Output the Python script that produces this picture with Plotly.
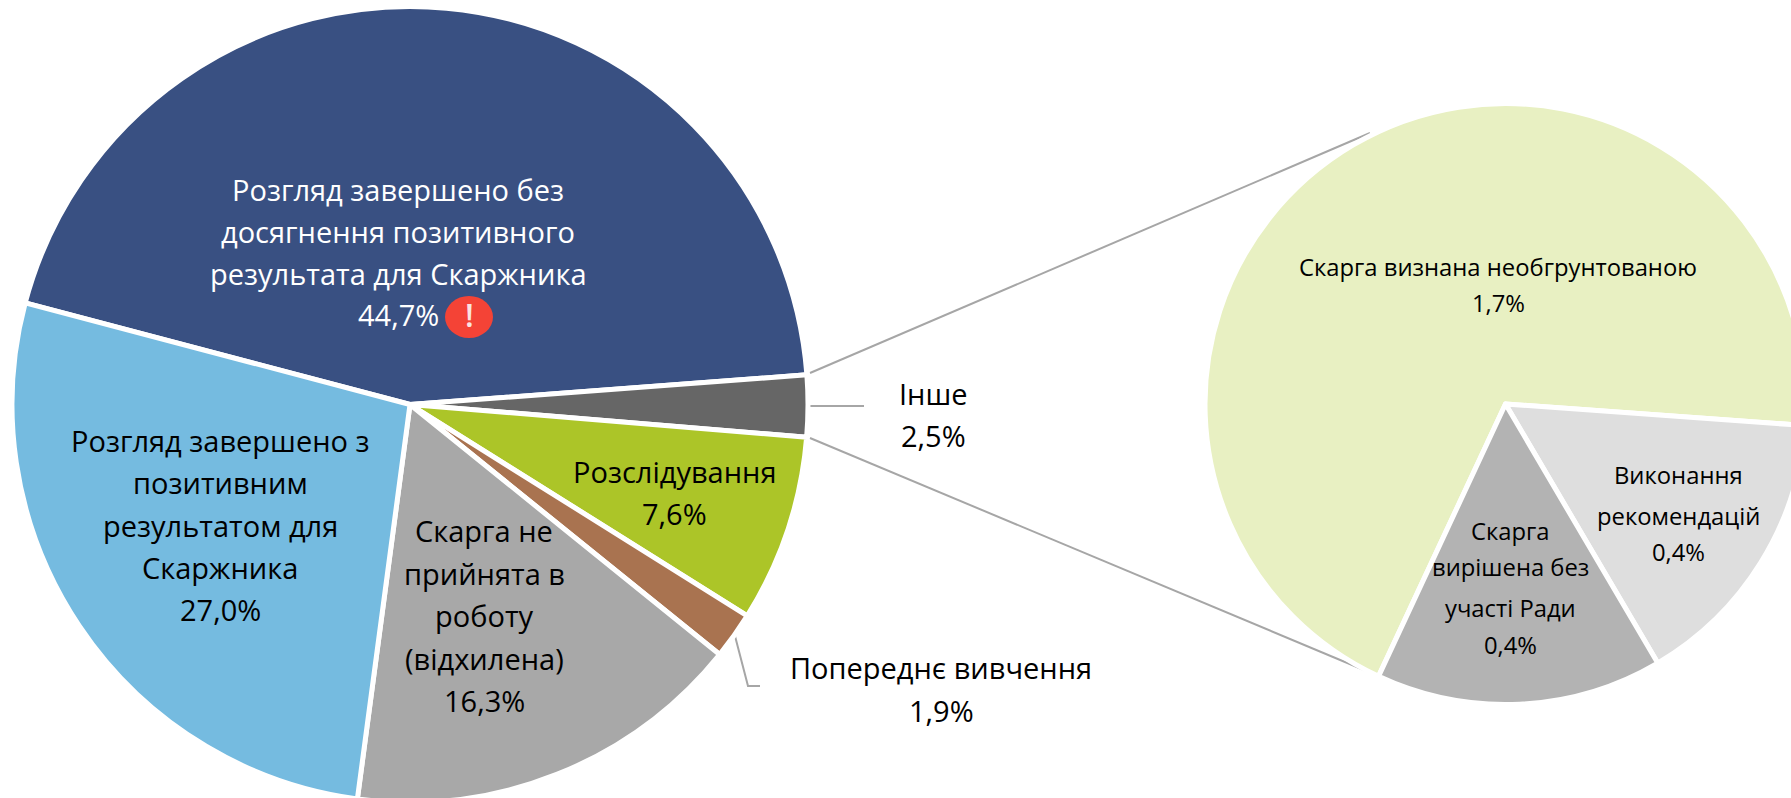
import plotly.graph_objects as go

# ---------- data ----------
main_labels = ["Розгляд завершено без досягнення позитивного результата для Скаржника", "Інше", "Розслідування",
               "Попереднє вивчення", "Скарга не прийнята в роботу (відхилена)",
               "Розгляд завершено з позитивним результатом для Скаржника"]
main_values = [44.7, 2.5, 7.6, 1.9, 16.3, 27.0]
main_colors = ["#395082", "#666666", "#ACC528", "#A97350", "#A8A8A8", "#75BBE0"]

sub_labels = ["Скарга визнана необгрунтованою", "Виконання рекомендацій", "Скарга вирішена без участі Ради"]
sub_values = [1.73, 0.385, 0.385]
sub_colors = ["#E8F0C2", "#DEDEDE", "#B3B3B3"]

main_lines = [
    ["Розгляд завершено без", "досягнення позитивного", "результата для Скаржника"],
    ["Інше"],
    ["Розслідування"],
    ["Попереднє вивчення"],
    ["Скарга не", "прийнята в", "роботу", "(відхилена)"],
    ["Розгляд завершено з", "позитивним", "результатом для", "Скаржника"],
]
sub_lines = [
    ["Скарга визнана необгрунтованою"],
    ["Виконання", "рекомендацій"],
    ["Скарга", "вирішена без", "участі Ради"],
]

# ---------- layout constants (pixels) ----------
W, H = 1810, 810
MAIN_C, MAIN_R = (410, 404.5), 398
SUB_C, SUB_R = (1505.5, 404), 300.5
FONT = "Open Sans"
LINE = "#A6A6A6"


def fx(px):
    return px / W


def fy(py):
    return 1 - py / H


def pct(v):
    return f"{v:.1f}".replace(".", ",") + "%"


def dom(c, r):
    return dict(x=[fx(c[0] - r), fx(c[0] + r)], y=[max(0, fy(c[1] + r)), min(1, fy(c[1] - r))])


fig = go.Figure()
fig.add_trace(go.Pie(labels=main_labels, values=main_values, sort=False, direction="clockwise", rotation=-75.2,
                     textinfo="none", showlegend=False, domain=dom(MAIN_C, MAIN_R),
                     marker=dict(colors=main_colors, line=dict(color="white", width=5))))
fig.add_trace(go.Pie(labels=sub_labels, values=sub_values, sort=False, direction="clockwise", rotation=205,
                     textinfo="none", showlegend=False, domain=dom(SUB_C, SUB_R),
                     marker=dict(colors=sub_colors, line=dict(color="white", width=5))))

annotations = []


def put(text, x, y, size, color="black", weight=400):
    annotations.append(dict(text=text, x=fx(x), y=fy(y), xref="paper", yref="paper", showarrow=False,
                            xanchor="center", yanchor="middle",
                            font=dict(family=FONT, size=size, color=color, weight=weight)))


def block(lines, value, x, ys, size, color="black"):
    for t, y in zip(lines + [pct(value)], ys):
        put(t, x, y, size, color)


MS, SS = 29, 23.8
block(main_lines[0], main_values[0], 398, [189, 231, 273, 315], MS, "white")
block(main_lines[1], main_values[1], 933, [393, 435], MS)
block(main_lines[2], main_values[2], 674, [471, 513], MS)
block(main_lines[3], main_values[3], 941, [667, 710], MS)
block(main_lines[4], main_values[4], 484, [530, 573, 615, 658, 700], MS)
block(main_lines[5], main_values[5], 220, [440, 482, 525, 567, 609], MS)
block(sub_lines[0], sub_values[0], 1498, [267, 303], SS)
block(sub_lines[1], sub_values[1], 1678, [475, 516, 552], SS)
block(sub_lines[2], sub_values[2], 1510, [531, 567, 608, 645], SS)
put("!", 469, 314, 32, "#FBE3E1", 600)


def seg(pts):
    path = "M " + " L ".join(f"{fx(a)} {fy(b)}" for a, b in pts)
    return dict(type="path", path=path, xref="paper", yref="paper", line=dict(color=LINE, width=2), layer="below")


shapes = [
    seg([(810, 373), (1370, 133)]),
    seg([(810, 438), (1376, 675)]),
    seg([(809, 406), (864, 406)]),
    seg([(735, 636), (748, 686), (760, 686)]),
    dict(type="circle", xref="paper", yref="paper", x0=fx(445), x1=fx(493), y0=fy(338), y1=fy(296),
         fillcolor="#F44336", line=dict(width=0)),
]

fig.update_layout(width=W, height=H, margin=dict(l=0, r=0, t=0, b=0), paper_bgcolor="white",
                  annotations=annotations, shapes=shapes, showlegend=False)

fig.write_html("out.html", config={"displayModeBar": False},
               post_script="document.documentElement.style.overflow='hidden';"
                           "document.body.style.overflow='hidden';document.body.style.margin='0';")
